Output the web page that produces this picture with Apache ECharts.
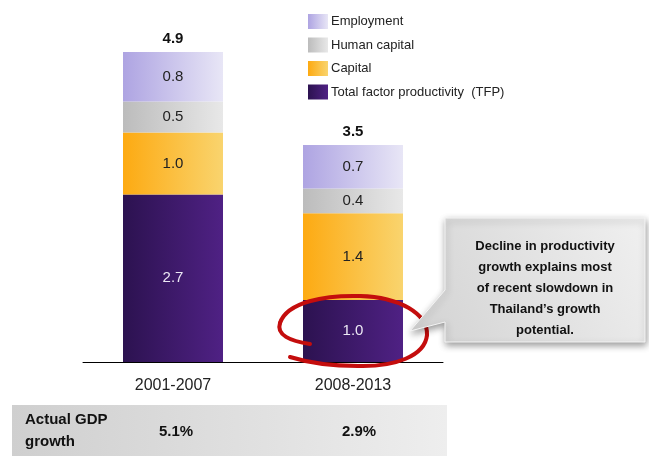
<!DOCTYPE html>
<html>
<head>
<meta charset="utf-8">
<script src="https://cdn.jsdelivr.net/npm/echarts@6/dist/echarts.min.js"></script>
<style>
  html, body { margin: 0; padding: 0; background: #fff; }
  #chart { width: 649px; height: 456px; }
</style>
</head>
<body>
<div id="chart"></div>
<script>
// Growth accounting for Thailand: contributions to potential growth (percentage points)
const periods = ['2001-2007', '2008-2013'];
const tfp = [2.7, 1.0];
const capital = [1.0, 1.4];
const humanCapital = [0.5, 0.4];
const employment = [0.8, 0.7];
const totals = [4.9, 3.5];
const actualGdp = ['5.1%', '2.9%'];

const FONT = '"Liberation Sans", Arial, Helvetica, sans-serif';

function hGrad(c0, c1) {
  return new echarts.graphic.LinearGradient(0, 0, 1, 0, [
    { offset: 0, color: c0 },
    { offset: 1, color: c1 }
  ]);
}

const segLabel = (color) => ({
  show: true,
  position: 'inside',
  color: color,
  fontFamily: FONT,
  fontSize: 15,
  formatter: (p) => p.value.toFixed(1)
});

// hand-drawn red loop, as a chain of cubic segments [start, cp1, cp2, end]
const loopSegments = [
  [[310, 344], [290, 341], [276, 335], [280, 323]],
  [[280, 323], [287, 302], [325, 295], [360, 296]],
  [[360, 296], [400, 297], [428, 314], [427, 335]],
  [[427, 335], [425, 356], [395, 367], [358, 366]],
  [[358, 366], [330, 366], [306, 362], [290, 357]]
];

const chart = echarts.init(document.getElementById('chart'), null, { renderer: 'canvas' });

const option = {
  animation: false,
  backgroundColor: '#ffffff',
  grid: { left: 83, right: 206, top: 21, bottom: 94 },
  legend: {
    orient: 'vertical',
    left: 303,
    top: 9,
    icon: 'rect',
    itemWidth: 20,
    itemHeight: 15,
    itemGap: 8.5,
    selectedMode: false,
    data: ['Employment', 'Human capital', 'Capital', 'Total factor productivity  (TFP)'],
    textStyle: { fontFamily: FONT, fontSize: 13, color: '#222', padding: [0, 0, 0, -2] }
  },
  xAxis: {
    type: 'category',
    data: periods,
    axisLine: { lineStyle: { color: '#000', width: 1 } },
    axisTick: { show: false },
    axisLabel: { fontFamily: FONT, fontSize: 16, color: '#222', margin: 16 }
  },
  yAxis: {
    type: 'value',
    min: 0,
    max: 5.5,
    show: false
  },
  series: [
    {
      name: 'Total factor productivity  (TFP)',
      type: 'bar',
      stack: 'g',
      barWidth: 100,
      data: tfp,
      itemStyle: { color: hGrad('#2c1250', '#4f2184') },
      label: segLabel('#ece8f4')
    },
    {
      name: 'Capital',
      type: 'bar',
      stack: 'g',
      data: capital,
      itemStyle: { color: hGrad('#fdaa12', '#f9d46e') },
      label: segLabel('#222')
    },
    {
      name: 'Human capital',
      type: 'bar',
      stack: 'g',
      data: humanCapital,
      itemStyle: { color: hGrad('#bcbcbc', '#e8e8e8') },
      label: segLabel('#222')
    },
    {
      name: 'Employment',
      type: 'bar',
      stack: 'g',
      data: employment,
      itemStyle: { color: hGrad('#aea4e2', '#e8e6f6') },
      label: segLabel('#222')
    },
    {
      // zero-height cap carrying the total growth figure above each stack
      name: 'total',
      type: 'bar',
      stack: 'g',
      data: totals.map(() => 0),
      itemStyle: { color: 'transparent' },
      label: {
        show: true,
        position: 'top',
        distance: 6,
        fontFamily: FONT,
        fontSize: 15,
        fontWeight: 'bold',
        color: '#111',
        formatter: (p) => totals[p.dataIndex].toFixed(1)
      }
    }
  ],
  graphic: [
    // actual GDP growth band under the chart
    {
      type: 'rect',
      z: 1,
      shape: { x: 12, y: 405, width: 435, height: 51 },
      style: { fill: hGrad('#cfcfcf', '#eeeeee') }
    },
    {
      type: 'text',
      z: 2,
      x: 25,
      y: 431,
      style: {
        text: 'Actual GDP\ngrowth',
        fontFamily: FONT,
        fontSize: 15,
        fontWeight: 'bold',
        lineHeight: 22,
        fill: '#111',
        verticalAlign: 'middle'
      }
    },
    {
      type: 'text',
      z: 2,
      x: 176,
      y: 432,
      style: {
        text: actualGdp[0],
        fontFamily: FONT,
        fontSize: 15,
        fontWeight: 'bold',
        fill: '#111',
        align: 'center',
        verticalAlign: 'middle'
      }
    },
    {
      type: 'text',
      z: 2,
      x: 359,
      y: 432,
      style: {
        text: actualGdp[1],
        fontFamily: FONT,
        fontSize: 15,
        fontWeight: 'bold',
        fill: '#111',
        align: 'center',
        verticalAlign: 'middle'
      }
    },
    ...loopSegments.map((s) => ({
      type: 'bezierCurve',
      z: 50,
      shape: {
        x1: s[0][0], y1: s[0][1],
        cpx1: s[1][0], cpy1: s[1][1],
        cpx2: s[2][0], cpy2: s[2][1],
        x2: s[3][0], y2: s[3][1]
      },
      style: { fill: null, stroke: '#c40d0d', lineWidth: 4, lineCap: 'round' }
    })),
    // callout box with pointer
    {
      type: 'polygon',
      z: 60,
      shape: {
        points: [[445, 218], [645, 218], [645, 342], [445, 342], [445, 322], [410, 331], [445, 290]]
      },
      style: {
        fill: new echarts.graphic.LinearGradient(0, 1, 1, 0, [
          { offset: 0, color: '#d2d2d2' },
          { offset: 1, color: '#f0f0f0' }
        ]),
        stroke: '#f4f4f4',
        lineWidth: 1,
        shadowBlur: 7,
        shadowColor: 'rgba(0,0,0,0.4)',
        shadowOffsetX: 1,
        shadowOffsetY: 3
      }
    },
    {
      type: 'text',
      z: 61,
      x: 545,
      y: 288,
      style: {
        text: 'Decline in productivity\ngrowth explains most\nof recent slowdown in\nThailand\u2019s growth\npotential.',
        fontFamily: FONT,
        fontSize: 13,
        fontWeight: 'bold',
        lineHeight: 21,
        fill: '#111',
        align: 'center',
        verticalAlign: 'middle'
      }
    }
  ]
};

chart.setOption(option);
</script>
</body>
</html>
